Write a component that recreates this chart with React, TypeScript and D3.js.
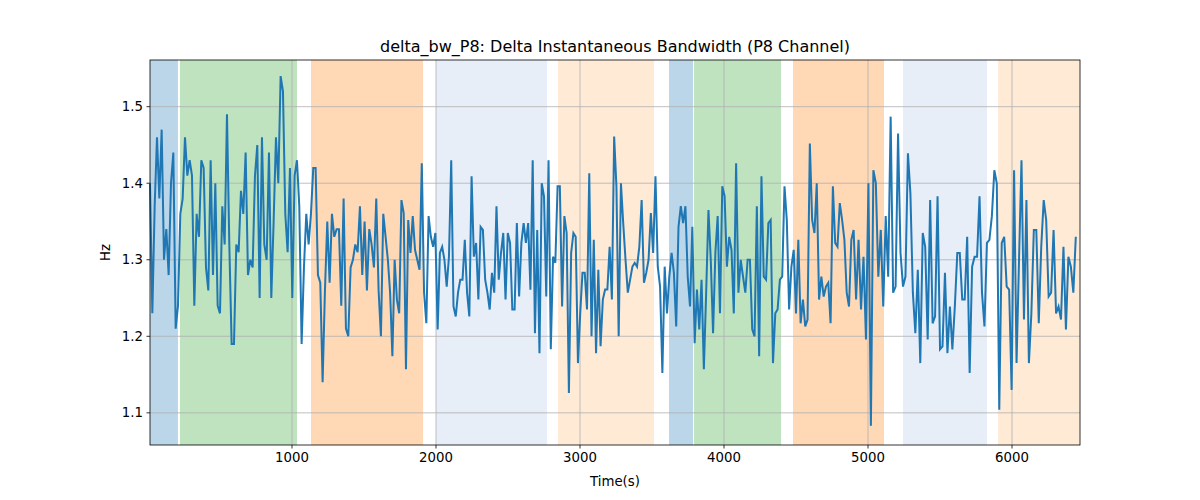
import React from "react";
import * as d3 from "d3";

// values, in four consecutive time segments
const seg1 = [1.40,1.23,1.37,1.46,1.38,1.47,1.30,1.34,1.28,1.40,1.44,1.21,1.24,1.36,1.38,1.46,1.41,1.43,1.41,1.24,1.36,1.33,1.43,1.42,1.29,1.26,1.43,1.28,1.40,1.24,1.23,1.37,1.32,1.49,1.32,1.19,1.19,1.32,1.31,1.39,1.36,1.44,1.28,1.30,1.29,1.41,1.45,1.25,1.46,1.32,1.30,1.44,1.25,1.35,1.46,1.40,1.54,1.52,1.36,1.31,1.42,1.25,1.41,1.43,1.37,1.19,1.29,1.36,1.32,1.36,1.42,1.42,1.28,1.27,1.14,1.26,1.35,1.27,1.36,1.33,1.34,1.34,1.24,1.38,1.21,1.20,1.29,1.30,1.32,1.31,1.37,1.28,1.35,1.26,1.34,1.32,1.29,1.38,1.26,1.20,1.36];
const seg2 = [1.330,1.30,1.257,1.174,1.30,1.248,1.23,1.378,1.361,1.157,1.352,1.309,1.357,1.313,1.30,1.287,1.426,1.257,1.217,1.357,1.33,1.317,1.335,1.209,1.309,1.317,1.30,1.265,1.304,1.43,1.239,1.226,1.257,1.274,1.274,1.326,1.257,1.226,1.409,1.304,1.322,1.248,1.343,1.339,1.274,1.257,1.235,1.283,1.257,1.37,1.274,1.309,1.335,1.248,1.335,1.322,1.235,1.235,1.348,1.252,1.322,1.348,1.322,1.348,1.261,1.43,1.204,1.339,1.178,1.40,1.383,1.252,1.43,1.183,1.304,1.296,1.396,1.396,1.239,1.357,1.335,1.126,1.309,1.335,1.33,1.165,1.23,1.283,1.283,1.235,1.413,1.20,1.326,1.178,1.287,1.187,1.248,1.261,1.261,1.317,1.248,1.461,1.396,1.20,1.40];
const seg3 = [1.348,1.30,1.257,1.274,1.291,1.296,1.291,1.317,1.378,1.270,1.283,1.30,1.361,1.309,1.409,1.291,1.265,1.152,1.291,1.23,1.278,1.309,1.283,1.213,1.343,1.37,1.348,1.37,1.278,1.239,1.343,1.191,1.261,1.209,1.274,1.157,1.257,1.365,1.30,1.204,1.309,1.357,1.23,1.396,1.383,1.291,1.330,1.313,1.23,1.426,1.257,1.30,1.278,1.257,1.30,1.30,1.209,1.20,1.37,1.174,1.409,1.278,1.274,1.348,1.352,1.165,1.23,1.235,1.274,1.278,1.396,1.352,1.235,1.291,1.313,1.23,1.326,1.217,1.248,1.213,1.222,1.452,1.352,1.335,1.40,1.248,1.278,1.252,1.265,1.270,1.217,1.396,1.322,1.317,1.374,1.352,1.326,1.257,1.239,1.326];
const seg4 = [1.339,1.248,1.326,1.235,1.304,1.196,1.40,1.083,1.417,1.40,1.278,1.339,1.239,1.357,1.278,1.487,1.257,1.265,1.465,1.309,1.265,1.278,1.439,1.387,1.257,1.204,1.287,1.165,1.335,1.317,1.196,1.378,1.217,1.226,1.383,1.183,1.187,1.283,1.178,1.239,1.183,1.239,1.309,1.309,1.248,1.248,1.330,1.152,1.291,1.304,1.304,1.383,1.257,1.213,1.322,1.326,1.357,1.417,1.40,1.104,1.322,1.33,1.265,1.261,1.13,1.417,1.165,1.30,1.43,1.222,1.378,1.165,1.23,1.339,1.339,1.217,1.317,1.378,1.352,1.252,1.257,1.339,1.23,1.239,1.222,1.317,1.209,1.304,1.291,1.257,1.330];
const segBounds = [14, 1650, 3300, 4900, 6460];

// shaded stages: [start, end, colour, opacity]
const spanStart = [14, 222, 1132, 2000, 2847, 3618, 3792, 4479, 5243, 5903];
const spanEnd = [208, 1035, 1910, 2771, 3514, 3785, 4396, 5111, 5826, 6472];
const spanColor = ["#1f77b4", "#2ca02c", "#ff7f0e", "#aec7e8", "#ffbb78", "#1f77b4", "#2ca02c", "#ff7f0e", "#aec7e8", "#ffbb78"];
const spanOpacity = [0.3, 0.3, 0.3, 0.3, 0.3, 0.3, 0.3, 0.3, 0.3, 0.3];

const xTicks = [1000, 2000, 3000, 4000, 5000, 6000];
const yTicks = [1.1, 1.2, 1.3, 1.4, 1.5];

const W = 1200, H = 500;
const m = { left: 150, right: 1080, top: 60, bottom: 445 };

const points: [number, number][] = [];
[seg1, seg2, seg3, seg4].forEach((seg, s) => {
  const t0 = segBounds[s], t1 = segBounds[s + 1];
  seg.forEach((v, i) => points.push([t0 + ((t1 - t0) * i) / seg.length, v]));
});

export default function App() {
  const x = d3.scaleLinear().domain([14, 6472]).range([m.left, m.right]);
  const y = d3.scaleLinear().domain([1.058, 1.561]).range([m.bottom, m.top]);
  const line = d3.line<[number, number]>().x((d) => x(d[0])).y((d) => y(d[1]));
  const font = "DejaVu Sans, sans-serif";
  return (
    <svg width={W} height={H} style={{ position: "absolute", left: 0, top: 0 }} fontFamily={font}>
      <rect width={W} height={H} fill="white" />
      {spanStart.map((s, i) => (
        <rect key={i} x={x(s)} y={m.top} width={x(spanEnd[i]) - x(s)} height={m.bottom - m.top}
          fill={spanColor[i]} opacity={spanColor[i] === "#aec7e8" || spanColor[i] === "#ffbb78" ? 0.3 : spanOpacity[i]} />
      ))}
      {xTicks.map((t) => (
        <g key={t}>
          <line x1={x(t)} x2={x(t)} y1={m.top} y2={m.bottom} stroke="#b0b0b0" strokeWidth={0.8} />
          <line x1={x(t)} x2={x(t)} y1={m.bottom} y2={m.bottom + 3.5} stroke="black" strokeWidth={0.8} />
          <text x={x(t)} y={m.bottom + 17} fontSize={13.3} textAnchor="middle">{t}</text>
        </g>
      ))}
      {yTicks.map((t) => (
        <g key={t}>
          <line x1={m.left} x2={m.right} y1={y(t)} y2={y(t)} stroke="#b0b0b0" strokeWidth={0.8} />
          <line x1={m.left - 3.5} x2={m.left} y1={y(t)} y2={y(t)} stroke="black" strokeWidth={0.8} />
          <text x={m.left - 7} y={y(t) + 4.5} fontSize={13.3} textAnchor="end">{t.toFixed(1)}</text>
        </g>
      ))}
      <path d={line(points) ?? ""} fill="none" stroke="#1f77b4" strokeWidth={2} />
      <rect x={m.left} y={m.top} width={m.right - m.left} height={m.bottom - m.top} fill="none" stroke="black" strokeWidth={0.8} />
      <text x={(m.left + m.right) / 2} y={52} fontSize={16} textAnchor="middle">delta_bw_P8: Delta Instantaneous Bandwidth (P8 Channel)</text>
      <text x={(m.left + m.right) / 2} y={486} fontSize={13.3} textAnchor="middle">Time(s)</text>
      <text transform={`translate(110,${(m.top + m.bottom) / 2}) rotate(-90)`} fontSize={13.3} textAnchor="middle">Hz</text>
    </svg>
  );
}
